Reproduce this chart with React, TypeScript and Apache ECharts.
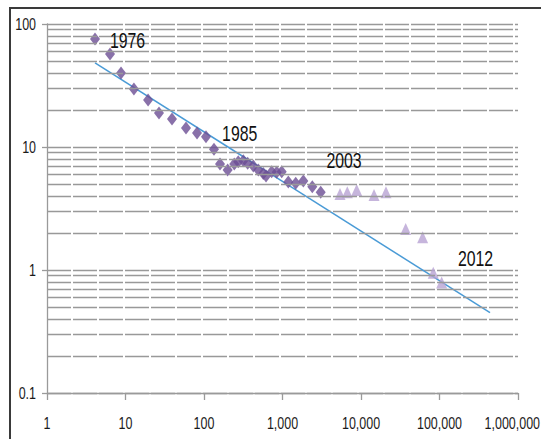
import React, { useEffect, useRef } from "react";
import * as echarts from "echarts";

// Measurements through 2003 (dark diamonds)
const earlyX = [4.09, 6.35, 8.77, 12.8, 19.4, 26.7, 39.1, 59, 81.5, 106, 134, 160, 200, 243, 273, 317, 360, 425, 492, 569, 617, 728, 843, 977, 1186, 1473, 1842, 2397, 3067];
const earlyY = [75.6, 57, 40, 29.6, 24.1, 18.9, 16.9, 14.3, 13.0, 12.1, 9.6, 7.28, 6.5, 7.28, 7.6, 7.74, 7.37, 7.0, 6.5, 6.1, 5.8, 6.3, 6.24, 6.3, 5.2, 5.07, 5.3, 4.75, 4.28];

// Later measurements (light triangles)
const lateX = [5400, 6690, 8810, 14650, 20800, 37100, 61000, 83300, 106600];
const lateY = [4.15, 4.28, 4.47, 4.07, 4.28, 2.15, 1.85, 0.95, 0.79];

// Power-law trend line end points
const trendX = [4.09, 440000];
const trendY = [48.2, 0.45];

// Year annotations
const yearLabels = ["1976", "1985", "2003", "2012"];

const xTicks = [1, 10, 100, 1000, 10000, 100000, 1000000];
const yTicks = [0.1, 1, 10, 100];
const xTickLabels = ["1", "10", "100", "1,000", "10,000", "100,000", "1,000,000"];
const yTickLabels = ["0.1", "1", "10", "100"];

const FONT = "'Liberation Sans', Arial, sans-serif";
const SQUEEZE = 0.78;
const PAGE_W = 541;

export default function App() {
  const ref = useRef<HTMLDivElement>(null);

  useEffect(() => {
    document.body.style.margin = "0";
    const chart = echarts.init(ref.current!, null, { renderer: "svg" });

    // Minor horizontal grid lines at 2..9 of each decade
    const minorLines: { yAxis: number }[] = [];
    for (let k = -1; k <= 1; k++) {
      for (let m = 2; m <= 9; m++) {
        minorLines.push({ yAxis: +(m * Math.pow(10, k)).toPrecision(3) });
      }
    }

    const gridStyle = { color: "#999999", width: 1.4, type: [24, 2] as number[] };

    chart.setOption({
      animation: false,
      backgroundColor: "#ffffff",
      grid: { left: 47, top: 24, right: 23, bottom: 46 },
      xAxis: {
        type: "log",
        logBase: 10,
        min: xTicks[0],
        max: xTicks[xTicks.length - 1],
        axisLine: { lineStyle: { color: "#9a9a9a", width: 1.3 } },
        axisTick: { show: true, length: 7, lineStyle: { color: "#9a9a9a", width: 1.3 } },
        minorTick: { show: false },
        splitLine: { show: false },
        axisLabel: { show: false },
      },
      yAxis: {
        type: "log",
        logBase: 10,
        min: yTicks[0],
        max: yTicks[yTicks.length - 1],
        axisLine: { show: true, lineStyle: { color: "#9a9a9a", width: 1.3 } },
        axisTick: { show: true, length: 5, lineStyle: { color: "#9a9a9a", width: 1.3 } },
        splitLine: { show: true, lineStyle: gridStyle },
        axisLabel: { show: false },
      },
      series: [
        {
          name: "grid",
          type: "line",
          data: [],
          silent: true,
          markLine: {
            silent: true,
            symbol: "none",
            label: { show: false },
            lineStyle: gridStyle,
            data: minorLines,
          },
        },
        {
          name: "trend",
          type: "line",
          data: trendX.map((x, i) => [x, trendY[i]]),
          showSymbol: false,
          lineStyle: { color: "#4a9bd6", width: 1.5 },
          z: 3,
        },
        {
          name: "early",
          type: "scatter",
          data: earlyX.map((x, i) => [x, earlyY[i]]),
          symbol: "diamond",
          symbolSize: [10, 13],
          itemStyle: { color: "#6b4e94" },
          z: 4,
        },
        {
          name: "late",
          type: "scatter",
          data: lateX.map((x, i) => [x, lateY[i]]),
          symbol: "triangle",
          symbolSize: [11, 12],
          itemStyle: { color: "#b8a3d3" },
          z: 4,
        },
      ],
    });

    // Tick labels in a condensed face, placed through the axes' own scales
    const tickTexts: any[] = [];
    xTicks.forEach((v, i) => {
      const [px] = chart.convertToPixel({ gridIndex: 0 }, [v, yTicks[0]]) as number[];
      const last = i === xTicks.length - 1;
      tickTexts.push({
        type: "text",
        x: last ? PAGE_W - 1 : px,
        y: 423,
        scaleX: SQUEEZE,
        style: {
          text: xTickLabels[i],
          fontFamily: FONT,
          fontSize: 16,
          fill: "#1a1a1a",
          textAlign: last ? "right" : "center",
          textVerticalAlign: "middle",
        },
      });
    });
    yTicks.forEach((v, i) => {
      const [, py] = chart.convertToPixel({ gridIndex: 0 }, [xTicks[0], v]) as number[];
      tickTexts.push({
        type: "text",
        x: 36,
        y: py,
        scaleX: SQUEEZE,
        style: {
          text: yTickLabels[i],
          fontFamily: FONT,
          fontSize: 16,
          fill: "#1a1a1a",
          textAlign: "right",
          textVerticalAlign: "middle",
        },
      });
    });

    // Year annotations next to the point clusters
    const yearPos: [number, number][] = [
      [127.5, 41],
      [239.7, 134],
      [344, 161],
      [475.5, 258.7],
    ];
    const yearTexts = yearLabels.map((t, i) => ({
      type: "text",
      x: yearPos[i][0],
      y: yearPos[i][1],
      scaleX: 0.72,
      z: 10,
      style: {
        text: t,
        fontFamily: FONT,
        fontSize: 22,
        fill: "#111111",
        textAlign: "center",
        textVerticalAlign: "middle",
      },
    }));

    chart.setOption({
      graphic: [
        {
          type: "rect",
          z: -10,
          silent: true,
          shape: { x: 10, y: 8, width: 560, height: 470 },
          style: { fill: "none", stroke: "#3a3a3a", lineWidth: 2 },
        },
        ...tickTexts,
        ...yearTexts,
      ],
    });

    return () => chart.dispose();
  }, []);

  return <div ref={ref} style={{ width: 541, height: 439 }} />;
}
